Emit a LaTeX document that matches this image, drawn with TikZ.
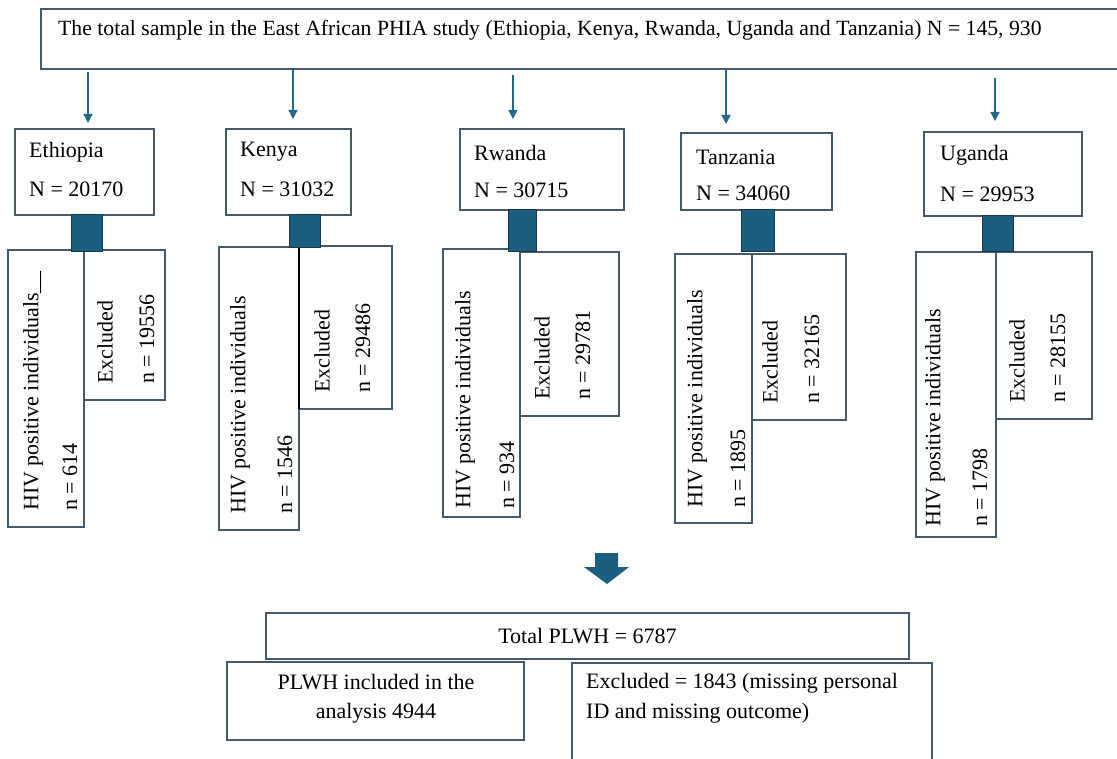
\documentclass[tikz,border=0pt]{standalone}
\usepackage{fontspec}
\setmainfont{Liberation Serif}
\usetikzlibrary{arrows.meta,fit,calc}
\definecolor{bord}{RGB}{70,90,105}
\definecolor{sqc}{RGB}{27,94,128}
\definecolor{sqd}{RGB}{25,55,75}
\definecolor{arc}{RGB}{36,104,140}
\tikzset{
 box/.style={draw=bord, line width=1.4pt, inner sep=0pt, outer sep=0pt},
 sqbox/.style={draw=sqd, fill=sqc, line width=1pt, inner sep=0pt, outer sep=0pt},
 arr/.style={draw=arc, line width=1.3pt, -{Triangle[length=9pt,width=9pt]}},
 lbl/.style={inner sep=0pt, font=\fontsize{22}{30}\selectfont, anchor=west},
 vlbl/.style={inner sep=0pt, font=\fontsize{22}{30}\selectfont, rotate=90, anchor=west},
 clbl/.style={inner sep=0pt, font=\fontsize{22}{29}\selectfont},
}
\newcommand{\bx}[6][box]{\node[#1, fit={(#3,#4) (#5,#6)}] (#2) {};}
\begin{document}
\begin{tikzpicture}[x=1pt,y=-1pt]
\useasboundingbox (0,0) rectangle (1117,759);
% top box
\bx{top}{41}{9}{1130}{69}
\node[lbl, font=\fontsize{21.7}{30}\selectfont] (toptxt) at (58,30) {The total sample in the East African PHIA study (Ethiopia, Kenya, Rwanda, Uganda and Tanzania) N = 145, 930};
% country boxes
\bx{eth}{15}{129}{154}{215}
\bx{ken}{226}{129}{351}{215}
\bx{rwa}{460}{129}{624}{210}
\bx{tan}{681}{133}{832}{210}
\bx{uga}{924}{132}{1082}{216}
% arrows
\coordinate (xe) at (88,0);
\coordinate (xk) at (293,0);
\coordinate (xr) at (513,0);
\coordinate (xt) at (726,0);
\coordinate (xu) at (995,0);
\draw[arr, shorten <=3pt, shorten >=6pt] (top.south -| xe) -- (eth.north -| xe);
\draw[arr, shorten <=0pt, shorten >=10pt] (top.south -| xk) -- (ken.north -| xk);
\draw[arr, shorten <=6pt, shorten >=10pt] (top.south -| xr) -- (rwa.north -| xr);
\draw[arr, shorten <=0pt, shorten >=9pt] (top.south -| xt) -- (tan.north -| xt);
\draw[arr, shorten <=9pt, shorten >=11pt] (top.south -| xu) -- (uga.north -| xu);
% country labels
\node[lbl] (ethn) at (29,152) {Ethiopia};
\node[lbl] (ethN) at (29,189) {N = 20170};
\node[lbl] (kenn) at (240,152) {Kenya};
\node[lbl] (kenN) at (240,189) {N = 31032};
\node[lbl] (rwan) at (474,153) {Rwanda};
\node[lbl] (rwaN) at (474,190) {N = 30715};
\node[lbl] (tann) at (696,157) {Tanzania};
\node[lbl] (tanN) at (696,193) {N = 34060};
\node[lbl] (ugan) at (940,155) {Uganda};
\node[lbl] (ugaN) at (940,194) {N = 29953};
% HIV / excluded boxes
\bx{ehiv}{8}{250}{84}{527}
\bx{eexc}{84}{250}{165}{400}
\bx{khiv}{219}{247}{299}{530}
\bx{kexc}{299}{246}{392}{409}
\draw[black, line width=1.4pt] (kexc.north west) -- (kexc.south west);
\bx{rhiv}{443}{249}{520}{517}
\bx{rexc}{520}{252}{619}{416}
\bx{thiv}{675}{254}{752}{523}
\bx{texc}{752}{254}{846}{420}
\bx{uhiv}{916}{252}{996}{537}
\bx{uexc}{996}{252}{1092}{419}
% squares
\bx[sqbox]{esq}{71}{215}{102}{252}
\bx[sqbox]{ksq}{289}{215}{320}{248}
\bx[sqbox]{rsq}{508}{210}{536}{252}
\bx[sqbox]{tsq}{741}{210}{774}{252}
\bx[sqbox]{usq}{982}{216}{1013}{252}
% vertical labels
\node[vlbl] (eh1) at (33,511) {HIV positive individuals\_\_};
\node[vlbl] (eh2) at (70,511) {n = 614};
\node[vlbl] (ex1) at (105,384) {Excluded};
\node[vlbl] (ex2) at (147,384) {n = 19556};
\node[vlbl] (kh1) at (240,514) {HIV positive individuals};
\node[vlbl] (kh2) at (285,514) {n = 1546};
\node[vlbl] (kx1) at (322,393) {Excluded};
\node[vlbl] (kx2) at (363,393) {n = 29486};
\node[vlbl] (rh1) at (465,509) {HIV positive individuals};
\node[vlbl] (rh2) at (507,509) {n = 934};
\node[vlbl] (rx1) at (542,400) {Excluded};
\node[vlbl] (rx2) at (583,400) {n = 29781};
\node[vlbl] (th1) at (697,508) {HIV positive individuals};
\node[vlbl] (th2) at (738,508) {n = 1895};
\node[vlbl] (tx1) at (770,404) {Excluded};
\node[vlbl] (tx2) at (812,404) {n = 32165};
\node[vlbl] (uh1) at (935,527) {HIV positive individuals};
\node[vlbl] (uh2) at (980,527) {n = 1798};
\node[vlbl] (ux1) at (1017,403) {Excluded};
\node[vlbl] (ux2) at (1058,403) {n = 28155};
% big arrow
\fill[sqc] (595,553) -- (618,553) -- (618,567) -- (629,567) -- (607,584) -- (584,567) -- (595,567) -- cycle;
% bottom boxes
\bx{total}{266}{613}{909}{659}
\node[clbl] (totaltxt) at (total.center) {Total PLWH = 6787};
\bx{incl}{227}{662}{524}{740}
\node[clbl, align=center] (incltxt) at (376,699) {PLWH included in the\\analysis 4944};
\bx{bexc}{572}{663}{932}{775}
\node[lbl, align=left, anchor=north west] (bexctxt) at (586,673) {Excluded = 1843 (missing personal\\ID and missing outcome)};
\end{tikzpicture}
\end{document}
